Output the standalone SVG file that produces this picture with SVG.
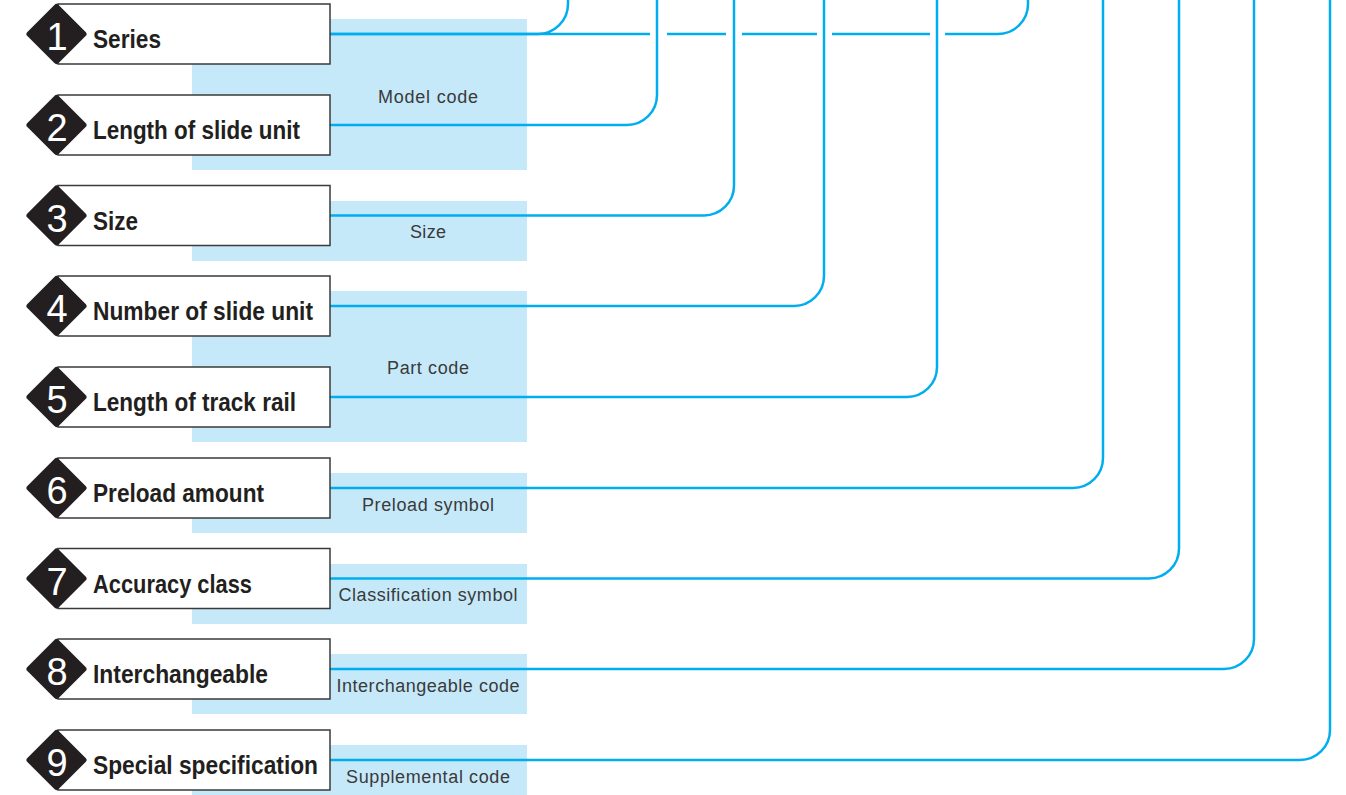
<svg xmlns="http://www.w3.org/2000/svg" xmlns:xlink="http://www.w3.org/1999/xlink" width="1346" height="795" viewBox="0 0 1346 795">
<style>
.code{fill:#c6e9fa}
.codetxt{font-family:"Liberation Sans",Arial,sans-serif;font-size:18px;fill:#3a3a3a;text-anchor:middle}
.box{fill:#fff;stroke:#3a3a3a;stroke-width:1.5}
.lbl{font-family:"Liberation Sans Narrow","Liberation Sans",Arial,sans-serif;font-weight:bold;font-size:26px;fill:#231f20}
.num{font-family:"Liberation Sans Narrow","Liberation Sans",Arial,sans-serif;font-size:38px;fill:#fff;text-anchor:middle}
.con{fill:none;stroke:#00aeef;stroke-width:2.5}
</style>
<defs>
<path id="dia" d="M0,-27 L27,0 L0,27 L-27,0 Z" fill="#231f20" stroke="#231f20" stroke-width="6" stroke-linejoin="round"/>
</defs>
<rect width="1346" height="795" fill="#fff"/>

<g id="code-model"><rect class="code" x="192" y="19" width="335" height="151"/><text class="codetxt" x="428" y="103" textLength="100">Model code</text></g>
<g id="code-size"><rect class="code" x="192" y="201" width="335" height="60"/><text class="codetxt" x="428" y="238" textLength="36">Size</text></g>
<g id="code-part"><rect class="code" x="192" y="291" width="335" height="151"/><text class="codetxt" x="428" y="374" textLength="82">Part code</text></g>
<g id="code-preload"><rect class="code" x="192" y="473" width="335" height="60"/><text class="codetxt" x="428" y="511" textLength="132">Preload symbol</text></g>
<g id="code-class"><rect class="code" x="192" y="564" width="335" height="60"/><text class="codetxt" x="428" y="601" textLength="179">Classification symbol</text></g>
<g id="code-inter"><rect class="code" x="192" y="654" width="335" height="60"/><text class="codetxt" x="428" y="692" textLength="183">Interchangeable code</text></g>
<g id="code-supp"><rect class="code" x="192" y="745" width="335" height="60"/><text class="codetxt" x="428" y="783" textLength="164">Supplemental code</text></g>

<g id="connectors" class="con">
<path d="M330,34 H538 A30,30 0 0 0 568,4 V-2"/>
<path d="M330,34 H650 M667,34 H726 M742,34 H817 M832,34 H930 M945,34 H998 A30,30 0 0 0 1028,4 V-2"/>
<path d="M330,125 H627 A30,30 0 0 0 657,95 V-2"/>
<path d="M330,215.5 H704 A30,30 0 0 0 734,185.5 V-2"/>
<path d="M330,306 H794 A30,30 0 0 0 824,276 V-2"/>
<path d="M330,397 H907 A30,30 0 0 0 937,367 V-2"/>
<path d="M330,488 H1073 A30,30 0 0 0 1103,458 V-2"/>
<path d="M330,578.5 H1149 A30,30 0 0 0 1179,548.5 V-2"/>
<path d="M330,669 H1224 A30,30 0 0 0 1254,639 V-2"/>
<path d="M330,760 H1300 A30,30 0 0 0 1330,730 V-2"/>
</g>

<g id="item1"><rect class="box" x="58" y="4" width="272" height="60"/><use xlink:href="#dia" x="56.5" y="34"/><text class="num" x="57" y="50">1</text><text class="lbl" x="93" y="48" textLength="68" lengthAdjust="spacingAndGlyphs">Series</text></g>
<g id="item2"><rect class="box" x="58" y="95" width="272" height="60"/><use xlink:href="#dia" x="56.5" y="125"/><text class="num" x="57" y="141">2</text><text class="lbl" x="93" y="139" textLength="207" lengthAdjust="spacingAndGlyphs">Length of slide unit</text></g>
<g id="item3"><rect class="box" x="58" y="185.5" width="272" height="60"/><use xlink:href="#dia" x="56.5" y="215.5"/><text class="num" x="57" y="231.5">3</text><text class="lbl" x="93" y="229.5" textLength="45" lengthAdjust="spacingAndGlyphs">Size</text></g>
<g id="item4"><rect class="box" x="58" y="276" width="272" height="60"/><use xlink:href="#dia" x="56.5" y="306"/><text class="num" x="57" y="322">4</text><text class="lbl" x="93" y="320" textLength="220" lengthAdjust="spacingAndGlyphs">Number of slide unit</text></g>
<g id="item5"><rect class="box" x="58" y="367" width="272" height="60"/><use xlink:href="#dia" x="56.5" y="397"/><text class="num" x="57" y="413">5</text><text class="lbl" x="93" y="411" textLength="203" lengthAdjust="spacingAndGlyphs">Length of track rail</text></g>
<g id="item6"><rect class="box" x="58" y="458" width="272" height="60"/><use xlink:href="#dia" x="56.5" y="488"/><text class="num" x="57" y="504">6</text><text class="lbl" x="93" y="502" textLength="171" lengthAdjust="spacingAndGlyphs">Preload amount</text></g>
<g id="item7"><rect class="box" x="58" y="548.5" width="272" height="60"/><use xlink:href="#dia" x="56.5" y="578.5"/><text class="num" x="57" y="594.5">7</text><text class="lbl" x="93" y="592.5" textLength="159" lengthAdjust="spacingAndGlyphs">Accuracy class</text></g>
<g id="item8"><rect class="box" x="58" y="639" width="272" height="60"/><use xlink:href="#dia" x="56.5" y="669"/><text class="num" x="57" y="685">8</text><text class="lbl" x="93" y="683" textLength="175" lengthAdjust="spacingAndGlyphs">Interchangeable</text></g>
<g id="item9"><rect class="box" x="58" y="730" width="272" height="60"/><use xlink:href="#dia" x="56.5" y="760"/><text class="num" x="57" y="776">9</text><text class="lbl" x="93" y="774" textLength="225" lengthAdjust="spacingAndGlyphs">Special specification</text></g>
</svg>
